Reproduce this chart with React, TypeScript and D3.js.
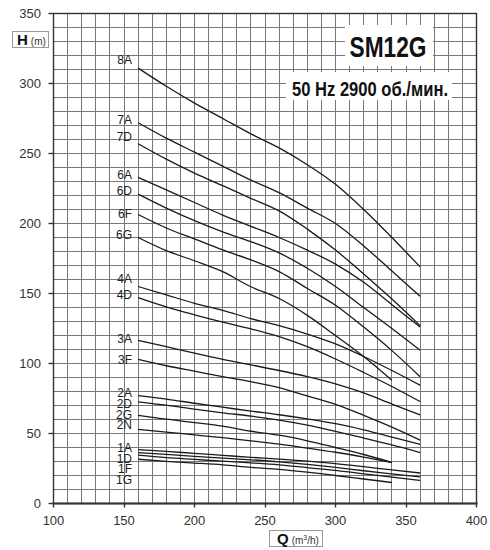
import React, { useEffect, useRef } from 'react';
import * as d3 from 'd3';

// flow points (m3/h); G and N curves stop at 340
const flow = [160, 180, 200, 220, 240, 260, 280, 300, 320, 340, 360];
const flowShort = [160, 180, 200, 220, 240, 260, 280, 300, 320, 340];

const head8A = [311, 298, 286, 275, 264, 254, 242, 228, 210, 190, 169];
const head7A = [272, 261, 251, 241, 231, 222, 211, 200, 184, 166, 148];
const head7D = [257, 246, 236, 227, 218, 209, 196, 181, 164, 146, 127];
const head6A = [233, 224, 215, 206, 198, 190, 181, 171, 158, 142, 126];
const head6D = [221, 211, 202, 194, 187, 179, 168, 155, 140, 125, 109.5];
const head6F = [206.4, 196.8, 189, 181.2, 174, 165.6, 153.6, 141.6, 126, 109.2, 90.6];
const head6G = [190, 180.6, 173.4, 165.6, 154.8, 146.4, 134.4, 120, 105, 88];
const head4A = [155, 149, 143, 138, 132, 127, 121, 114, 105, 95, 84.5];
const head4D = [147, 140.4, 134.8, 129.6, 124.8, 119.2, 112, 103.2, 93.6, 83.6, 72.8];
const head3A = [116.6, 112, 107.4, 103, 99, 95, 90.6, 85.5, 79, 71, 63.3];
const head3F = [103, 98.4, 94.5, 90.6, 87, 82.8, 76.8, 70.8, 63, 54.6, 45.3];
const head2A = [77, 74.6, 71.6, 68.8, 66, 63.4, 60.4, 57, 52.6, 47.4, 42.2];
const head2D = [72.6, 70.2, 67.4, 64.8, 62.4, 59.6, 56, 51.6, 46.8, 41.8, 36.4];
const head2G = [63, 60.2, 57.8, 55.2, 51.6, 48.8, 44.8, 40, 35, 29.4];
const head2N = [52.9, 51, 49, 47, 44.8, 42.4, 39.6, 36.6, 33.2, 29.2];
const head1A = [38.5, 37.3, 35.8, 34.4, 33, 31.7, 30.2, 28.5, 26.3, 24, 21.8];
const head1D = [36.4, 35.1, 33.7, 32.4, 31.2, 29.8, 28, 25.8, 23.4, 21.2, 19];
const head1F = [34.5, 32.8, 31.5, 30.2, 29, 27.6, 25.6, 23.6, 21.2, 18.8, 16.5];
const head1G = [31.6, 30.1, 28.9, 27.6, 25.8, 24.4, 22.4, 20, 17.5, 15];

const curveNames = ['8A', '7A', '7D', '6A', '6D', '6F', '6G', '4A', '4D', '3A', '3F', '2A', '2D', '2G', '2N', '1A', '1D', '1F', '1G'];
const curveHeads = [head8A, head7A, head7D, head6A, head6D, head6F, head6G, head4A, head4D, head3A, head3F,
    head2A, head2D, head2G, head2N, head1A, head1D, head1F, head1G];
// head value where each name sits beside the curve start
const labelHeads = [316.6, 273.8, 261.9, 234.5, 223.3, 207.1, 191.6, 160.7, 148.8, 117.4, 102.4,
    78.6, 70.9, 63, 55.9, 39.3, 32.1, 24.3, 16.6];

const xTicks = [100, 150, 200, 250, 300, 350, 400];
const yTicks = [0, 50, 100, 150, 200, 250, 300, 350];

const FONT = '"Liberation Sans Narrow", "Arial Narrow", "Liberation Sans", Arial, sans-serif';

export default function App() {
    const svgRef = useRef<SVGSVGElement>(null);

    useEffect(() => {
        const svg = d3.select(svgRef.current);
        svg.selectAll('*').remove();

        const x = d3.scaleLinear().domain([100, 400]).range([53.5, 476.5]);
        const y = d3.scaleLinear().domain([0, 350]).range([503.5, 13.5]);
        const px = (v: number) => Math.round(x(v) - 0.5) + 0.5;
        const py = (v: number) => Math.round(y(v) - 0.5) + 0.5;

        svg.append('rect').attr('width', 490).attr('height', 550).attr('fill', '#fff');

        // grid
        svg.selectAll('.vgrid')
            .data(d3.range(110, 400, 10))
            .enter()
            .append('line')
            .attr('x1', d => px(d)).attr('x2', d => px(d))
            .attr('y1', y(0)).attr('y2', y(350))
            .attr('stroke', '#777')
            .attr('stroke-width', 1);

        svg.selectAll('.hgrid')
            .data(d3.range(10, 350, 10))
            .enter()
            .append('line')
            .attr('x1', x(100)).attr('x2', x(400))
            .attr('y1', d => py(d)).attr('y2', d => py(d))
            .attr('stroke', '#777')
            .attr('stroke-width', 1);

        // frame
        svg.append('rect')
            .attr('x', x(100)).attr('y', y(350))
            .attr('width', x(400) - x(100)).attr('height', y(0) - y(350))
            .attr('fill', 'none')
            .attr('stroke', '#333')
            .attr('stroke-width', 1.4);
        svg.append('line')
            .attr('x1', x(100) - 1).attr('x2', x(400) + 1)
            .attr('y1', y(0)).attr('y2', y(0))
            .attr('stroke', '#333').attr('stroke-width', 2);

        // ticks
        svg.selectAll('.ytick')
            .data(yTicks)
            .enter()
            .append('line')
            .attr('x1', x(100) - 5).attr('x2', x(100))
            .attr('y1', d => py(d)).attr('y2', d => py(d))
            .attr('stroke', '#333').attr('stroke-width', 1.4);
        svg.selectAll('.xtick')
            .data(xTicks)
            .enter()
            .append('line')
            .attr('x1', d => px(d)).attr('x2', d => px(d))
            .attr('y1', y(0)).attr('y2', y(0) + 4)
            .attr('stroke', '#333').attr('stroke-width', 1.4);

        svg.selectAll('.ylabel')
            .data(yTicks)
            .enter()
            .append('text')
            .attr('x', 41)
            .attr('y', d => y(d) + 4.5)
            .attr('text-anchor', 'end')
            .attr('font-family', FONT)
            .attr('font-size', '13px')
            .attr('fill', '#333')
            .text(d => d);

        svg.selectAll('.xlabel')
            .data(xTicks)
            .enter()
            .append('text')
            .attr('x', d => x(d))
            .attr('y', 525)
            .attr('text-anchor', 'middle')
            .attr('font-family', FONT)
            .attr('font-size', '13px')
            .attr('fill', '#333')
            .text(d => d);

        // title boxes
        svg.append('rect').attr('x', 345).attr('y', 25).attr('width', 88).attr('height', 41).attr('fill', '#fff');
        svg.append('text')
            .attr('x', 388).attr('y', 57)
            .attr('text-anchor', 'middle')
            .attr('font-family', FONT)
            .attr('font-weight', 'bold')
            .attr('font-size', '30px')
            .attr('textLength', 77)
            .attr('lengthAdjust', 'spacingAndGlyphs')
            .attr('fill', '#111')
            .text('SM12G');

        svg.append('rect').attr('x', 286).attr('y', 72).attr('width', 166).attr('height', 28).attr('fill', '#fff');
        svg.append('text')
            .attr('x', 292).attr('y', 96)
            .attr('font-family', FONT)
            .attr('font-weight', 'bold')
            .attr('font-size', '21px')
            .attr('textLength', 156)
            .attr('lengthAdjust', 'spacingAndGlyphs')
            .attr('fill', '#111')
            .text('50 Hz 2900 об./мин.');

        // curves
        const line = d3.line<[number, number]>()
            .x(d => x(d[0]))
            .y(d => y(d[1]))
            .curve(d3.curveMonotoneX);

        curveNames.forEach((name, i) => {
            const heads = curveHeads[i];
            const qs = heads.length === flow.length ? flow : flowShort;
            const pts = heads.map((h, j) => [qs[j], h] as [number, number]);
            svg.append('path')
                .attr('d', line(pts))
                .attr('fill', 'none')
                .attr('stroke', '#1a1a1a')
                .attr('stroke-width', 1.3);
            svg.append('text')
                .attr('x', 132)
                .attr('y', y(labelHeads[i]) + 4)
                .attr('text-anchor', 'end')
                .attr('font-family', FONT)
                .attr('font-size', '12px')
                .attr('fill', '#222')
                .text(name);
        });

        // axis title boxes
        const hBox = svg.append('g');
        hBox.append('rect').attr('x', 12.5).attr('y', 31.5).attr('width', 36).attr('height', 16)
            .attr('fill', '#fff').attr('stroke', '#999');
        const ht = hBox.append('text').attr('x', 17).attr('y', 44.5).attr('font-family', FONT).attr('fill', '#111');
        ht.append('tspan').attr('font-weight', 'bold').attr('font-size', '15px').text('H');
        ht.append('tspan').attr('font-size', '10px').attr('dx', 3).attr('fill', '#333').text('(m)');

        const qBox = svg.append('g');
        qBox.append('rect').attr('x', 269.5).attr('y', 530.5).attr('width', 53).attr('height', 16)
            .attr('fill', '#fff').attr('stroke', '#999');
        const qt = qBox.append('text').attr('x', 277).attr('y', 543.5).attr('font-family', FONT).attr('fill', '#111');
        qt.append('tspan').attr('font-weight', 'bold').attr('font-size', '15px').text('Q');
        qt.append('tspan').attr('font-size', '10px').attr('dx', 3).attr('fill', '#333').text('(m');
        qt.append('tspan').attr('font-size', '7px').attr('dy', -4).attr('fill', '#333').text('3');
        qt.append('tspan').attr('font-size', '10px').attr('dy', 4).attr('fill', '#333').text('/h)');
    }, []);

    return (
        <svg ref={svgRef} width={490} height={550}
            style={{ position: 'absolute', left: 0, top: 0 }}>
        </svg>
    );
}
